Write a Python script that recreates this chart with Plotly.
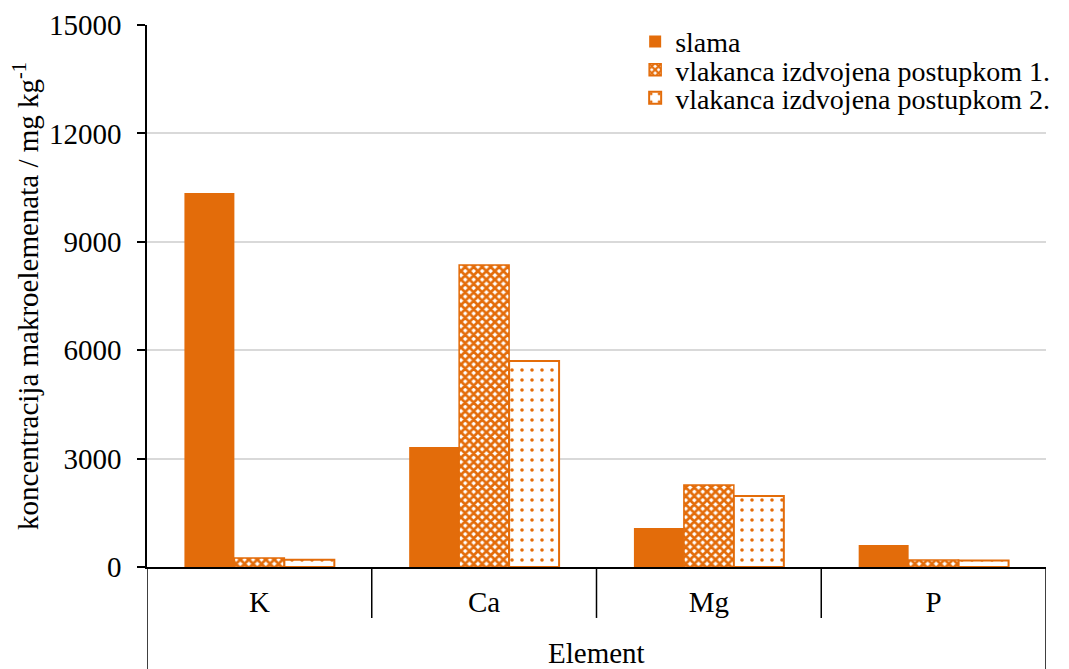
import plotly.graph_objects as go

categories = ["K", "Ca", "Mg", "P"]
series_names = ["slama", "vlakanca izdvojena postupkom 1.", "vlakanca izdvojena postupkom 2."]
slama = [10350, 3320, 1080, 610]
postupak1 = [250, 8360, 2270, 195]
postupak2 = [200, 5700, 1965, 180]
y_ticks = [0, 3000, 6000, 9000, 12000, 15000]

ORANGE = "#E36C0A"
FONT = "Liberation Serif, Times New Roman, serif"

fig = go.Figure()
fig.add_trace(go.Bar(
    x=categories, y=slama, name=series_names[0], legend="legend",
    marker=dict(color=ORANGE, line=dict(color=ORANGE, width=0)),
))
fig.add_trace(go.Bar(
    x=categories, y=postupak1, name=series_names[1], legend="legend2",
    marker=dict(color=ORANGE, line=dict(color=ORANGE, width=1.5),
                pattern=dict(shape="x", fgcolor=ORANGE, bgcolor="white",
                             size=6, solidity=0.7, fillmode="replace")),
))
fig.add_trace(go.Bar(
    x=categories, y=postupak2, name=series_names[2], legend="legend3",
    marker=dict(color=ORANGE, line=dict(color=ORANGE, width=2),
                pattern=dict(shape=".", fgcolor=ORANGE, bgcolor="white",
                             size=10, solidity=0.1, fillmode="replace")),
))

shapes = []
n = len(categories)
# inner category separators
for i in range(1, n):
    shapes.append(dict(type="line", xref="x", yref="paper",
                       x0=i - 0.5, x1=i - 0.5, y0=0, y1=-0.094,
                       line=dict(color="black", width=1.5)))
# outer box lines
for xv in (-0.5, n - 0.5):
    shapes.append(dict(type="line", xref="x", yref="paper",
                       x0=xv, x1=xv, y0=0, y1=-0.2,
                       line=dict(color="black", width=1.5)))

legend_font = dict(family=FONT, size=28, color="black")
legend_common = dict(x=0.543, xanchor="left", yanchor="middle",
                     bgcolor="rgba(0,0,0,0)", font=legend_font,
                     itemwidth=30)

fig.update_layout(
    width=1061, height=661,
    margin=dict(l=139, r=23, t=17, b=102, autoexpand=False),
    paper_bgcolor="white", plot_bgcolor="white",
    font=dict(family=FONT, size=28, color="black"),
    barmode="group", bargap=0.333, bargroupgap=0,
    showlegend=True,
    legend=dict(y=0.969, **legend_common),
    legend2=dict(y=0.917, **legend_common),
    legend3=dict(y=0.865, **legend_common),
    shapes=shapes,
    annotations=[dict(text="Element", xref="paper", yref="paper",
                      x=0.5, y=-0.158, xanchor="center", yanchor="middle",
                      showarrow=False,
                      font=dict(family=FONT, size=29, color="black"))],
)
fig.update_xaxes(
    type="category", categoryorder="array", categoryarray=categories,
    range=[-0.5, n - 0.5], automargin=False,
    showline=True, linecolor="black", linewidth=1.5,
    ticks="", showgrid=False, ticklabelstandoff=8,
    tickfont=dict(family=FONT, size=29, color="black"),
)
fig.update_yaxes(
    range=[0, 15000], tickvals=y_ticks, tickformat="d", automargin=False,
    showline=True, linecolor="black", linewidth=1.5,
    ticks="outside", ticklen=8, tickcolor="black", tickwidth=1.5,
    showgrid=True, gridcolor="#d9d9d9", gridwidth=1.5,
    zeroline=False, ticklabelstandoff=10,
    tickfont=dict(family=FONT, size=29, color="black"),
    title=dict(text="koncentracija makroelemenata / mg kg<sup>-1</sup>",
               font=dict(family=FONT, size=29, color="black"), standoff=9),
)

fig.write_html("out.html")
